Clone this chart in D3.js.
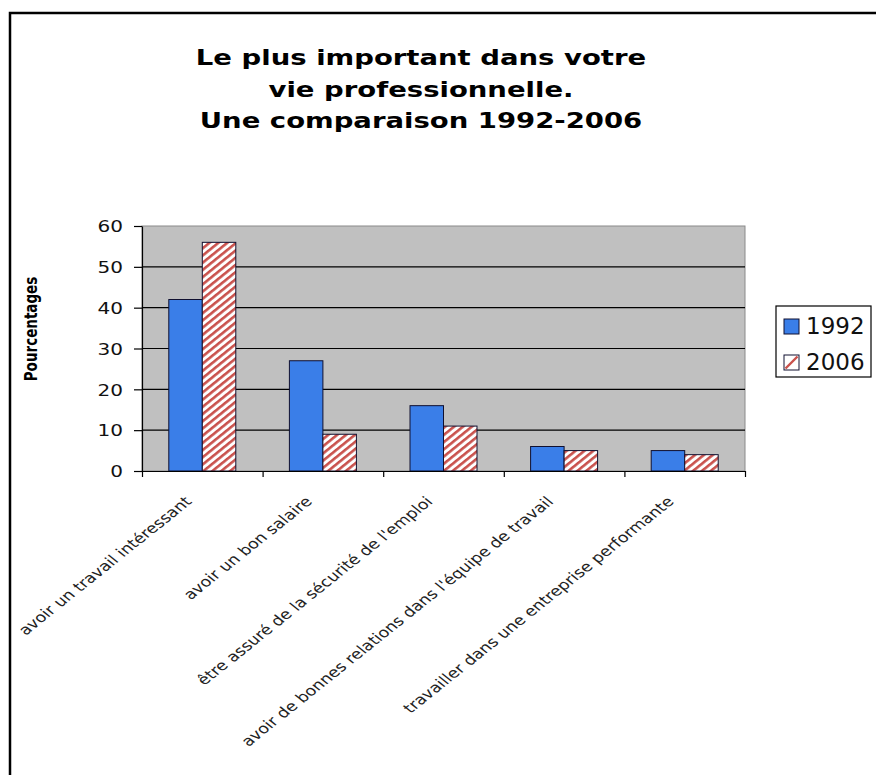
<!DOCTYPE html>
<html>
<head>
<meta charset="utf-8">
<script src="https://cdn.jsdelivr.net/npm/d3@7"></script>
<style>
  body { margin: 0; background: #fff; }
  text { font-family: "DejaVu Sans", Verdana, sans-serif; }
</style>
</head>
<body>
<script>
// chart data
var categories = [
  "avoir un travail intéressant",
  "avoir un bon salaire",
  "être assuré de la sécurité de l'emploi",
  "avoir de bonnes relations dans l'équipe de travail",
  "travailler dans une entreprise performante"
];
var years = ["1992", "2006"];
var values1992 = [42, 27, 16, 6, 5];
var values2006 = [56, 9, 11, 5, 4];
var yTicks = [0, 10, 20, 30, 40, 50, 60];
var titleLines = ["Le plus important dans votre", "vie professionnelle.", "Une comparaison 1992-2006"];

// the reference looks stretched horizontally, so text gets the same stretch
var sx = 1.25;

var w = 876;
var h = 775;
var plot = { left: 142, right: 745, top: 226, bottom: 471 };

var svg = d3.select("body").append("svg")
  .attr("width", w)
  .attr("height", h);

// hatch pattern for the 2006 bars
var defs = svg.append("defs");
var hatch = defs.append("pattern")
  .attr("id", "hatch")
  .attr("patternUnits", "userSpaceOnUse")
  .attr("width", 5.6)
  .attr("height", 5.6)
  .attr("patternTransform", "rotate(51)");
hatch.append("rect").attr("width", 5.6).attr("height", 5.6).attr("fill", "#ffffff");
hatch.append("rect").attr("width", 2.6).attr("height", 5.6).attr("fill", "#c9514c");

// outer frame (runs off the right and bottom edges)
svg.append("rect")
  .attr("x", 10).attr("y", 13)
  .attr("width", 900).attr("height", 800)
  .attr("fill", "none")
  .attr("stroke", "#000")
  .attr("stroke-width", 2.5);

// title
svg.append("g").selectAll("text")
  .data(titleLines)
  .enter().append("text")
  .attr("transform", function (d, i) {
    return "translate(421," + (65 + i * 31.5) + ") scale(" + sx + ",1)";
  })
  .attr("text-anchor", "middle")
  .style("font-size", "22px")
  .style("font-weight", "bold")
  .attr("fill", "#000")
  .text(function (d) { return d; });

// scales
var x = d3.scaleBand().domain(categories).range([plot.left, plot.right]);
var xSub = d3.scaleBand().domain(years).range([0, x.bandwidth()]).paddingInner(0).paddingOuter(0.8);
var y = d3.scaleLinear().domain([0, 60]).range([plot.bottom, plot.top]);
var xEdge = d3.scaleLinear().domain([0, categories.length]).range([plot.left, plot.right]);

// plot area
svg.append("rect")
  .attr("x", plot.left).attr("y", plot.top)
  .attr("width", plot.right - plot.left)
  .attr("height", plot.bottom - plot.top)
  .attr("fill", "#c0c0c0")
  .attr("stroke", "#8a8a8a");

// gridlines
svg.append("g").selectAll("line")
  .data(yTicks.filter(function (d) { return d > 0 && d < 60; }))
  .enter().append("line")
  .attr("x1", plot.left).attr("x2", plot.right)
  .attr("y1", function (d) { return y(d); })
  .attr("y2", function (d) { return y(d); })
  .attr("stroke", "#000")
  .attr("stroke-width", 1.2);

// bars
var series = [
  { year: "1992", values: values1992, fill: "#3a7ee8" },
  { year: "2006", values: values2006, fill: "url(#hatch)" }
];
series.forEach(function (s) {
  svg.append("g").selectAll("rect")
    .data(s.values)
    .enter().append("rect")
    .attr("x", function (d, i) { return x(categories[i]) + xSub(s.year); })
    .attr("y", function (d) { return y(d); })
    .attr("width", xSub.bandwidth())
    .attr("height", function (d) { return y(0) - y(d); })
    .attr("fill", s.fill)
    .attr("stroke", "#101030")
    .attr("stroke-width", 1);
});

// y axis
var yAxis = svg.append("g")
  .attr("transform", "translate(" + plot.left + ",0)")
  .call(d3.axisLeft(y).tickValues(yTicks).tickSize(8).tickSizeOuter(0));
yAxis.select(".domain").attr("stroke", "#000").attr("stroke-width", 1.2);
yAxis.selectAll(".tick line").attr("stroke", "#000").attr("stroke-width", 1.2);
yAxis.selectAll(".tick text")
  .attr("x", null)
  .attr("transform", "translate(-19,0) scale(" + sx + ",1)")
  .attr("dy", "0.36em")
  .style("font-size", "16px")
  .style("font-family", "'DejaVu Sans', Verdana, sans-serif")
  .attr("fill", "#111");

// x axis, ticks on the category edges
var xAxis = svg.append("g")
  .attr("transform", "translate(0," + plot.bottom + ")")
  .call(d3.axisBottom(xEdge).tickValues(d3.range(categories.length + 1)).tickSize(6).tickSizeOuter(0).tickFormat(""));
xAxis.select(".domain").attr("stroke", "#000").attr("stroke-width", 1.2);
xAxis.selectAll(".tick line").attr("stroke", "#000").attr("stroke-width", 1.2);

// rotated category labels
svg.append("g").selectAll("text")
  .data(categories)
  .enter().append("text")
  .attr("transform", function (d) {
    return "translate(" + (x(d) + x.bandwidth() / 2 - 19) + ",495) scale(" + sx + ",1) rotate(-45)";
  })
  .attr("text-anchor", "end")
  .attr("dy", "0.75em")
  .style("font-size", "14px")
  .attr("fill", "#222")
  .text(function (d) { return d; });

// y axis title
svg.append("text")
  .attr("transform", "translate(37,329) scale(" + sx + ",1) rotate(-90)")
  .attr("text-anchor", "middle")
  .style("font-size", "13.5px")
  .style("font-weight", "bold")
  .attr("fill", "#000")
  .text("Pourcentages");

// legend
var legend = svg.append("g");
legend.append("rect")
  .attr("x", 776).attr("y", 306)
  .attr("width", 95).attr("height", 71)
  .attr("fill", "#fff")
  .attr("stroke", "#000")
  .attr("stroke-width", 1.2);

var legItems = legend.selectAll("g.item")
  .data(series)
  .enter().append("g")
  .attr("class", "item")
  .attr("transform", function (d, i) { return "translate(784," + (319 + i * 36) + ")"; });

legItems.append("rect")
  .attr("width", 15).attr("height", 15)
  .attr("fill", function (d) { return d.year === "1992" ? d.fill : "#fff"; })
  .attr("stroke", "#101030")
  .attr("stroke-width", 1);

legItems.filter(function (d) { return d.year === "2006"; })
  .append("line")
  .attr("x1", 1.5).attr("y1", 13.5)
  .attr("x2", 13.5).attr("y2", 1.5)
  .attr("stroke", "#c9514c")
  .attr("stroke-width", 2.4);

legItems.append("text")
  .attr("x", 22)
  .attr("y", 15)
  .style("font-size", "23px")
  .attr("fill", "#111")
  .text(function (d) { return d.year; });
</script>
</body>
</html>
